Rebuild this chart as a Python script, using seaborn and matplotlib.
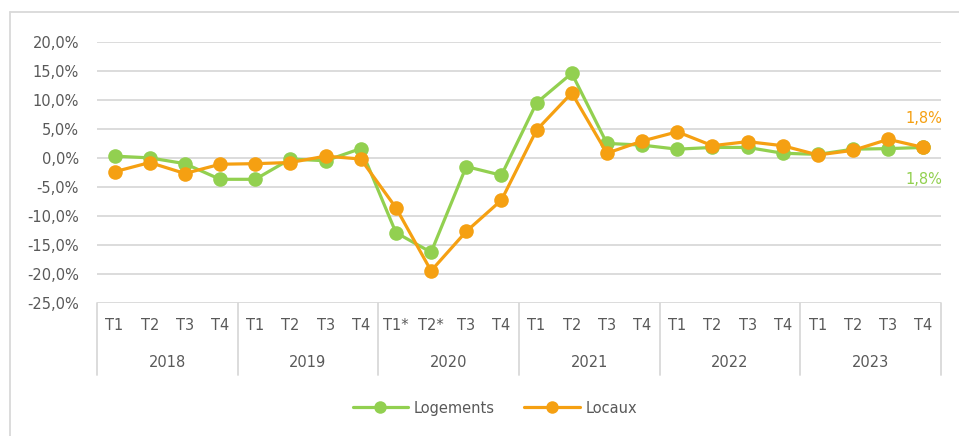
import matplotlib
matplotlib.use("Agg")
import matplotlib.pyplot as plt
from matplotlib.lines import Line2D
import seaborn as sns
import pandas as pd
import numpy as np

years = ["2018", "2019", "2020", "2021", "2022", "2023"]
quarters = ["T1", "T2", "T3", "T4", "T1", "T2", "T3", "T4",
            "T1*", "T2*", "T3", "T4", "T1", "T2", "T3", "T4",
            "T1", "T2", "T3", "T4", "T1", "T2", "T3", "T4"]
logements = [0.3, 0.0, -1.0, -3.7, -3.7, -0.2, -0.5, 1.6,
             -12.9, -16.3, -1.5, -3.0, 9.5, 14.6, 2.5, 2.2,
             1.5, 1.8, 1.8, 0.8, 0.6, 1.5, 1.6, 1.8]
locaux = [-2.4, -0.8, -2.7, -1.1, -1.0, -0.8, 0.3, -0.2,
          -8.6, -19.5, -12.7, -7.3, 4.8, 11.2, 0.8, 2.9,
          4.5, 2.1, 2.8, 2.1, 0.5, 1.3, 3.2, 1.8]
series_names = ["Logements", "Locaux"]
colors = {"Logements": "#92d050", "Locaux": "#f5a012"}

sns.set_style("white")
plt.rcParams['font.family'] = ['Liberation Sans Narrow', 'DejaVu Sans']

n = len(quarters)
idx = list(range(n))
df = pd.DataFrame({
    "i": idx * 2,
    "val": logements + locaux,
    "serie": ["Logements"] * n + ["Locaux"] * n,
})

W, H = 959, 436
fig = plt.figure(figsize=(W / 100, H / 100), dpi=100)
ax = fig.add_axes([97 / W, 1 - 302.7 / H, (941 - 97) / W, (302.7 - 42) / H])

sns.lineplot(data=df, x="i", y="val", hue="serie", palette=colors,
             hue_order=series_names, marker="o", markersize=10.5,
             markeredgewidth=0, linewidth=2.3, ax=ax, legend=False)

ax.set_xlim(-0.5, n - 0.5)
ax.set_ylim(-25, 20)
yt = np.arange(-25, 21, 5)
ax.set_yticks(yt)
ax.set_yticklabels([f"{v:.1f}%".replace(".", ",") for v in yt],
                   fontsize=10.5, color="#595959")
ax.tick_params(axis="y", length=0, pad=13)
ax.set_xticks([])
ax.set_xlabel("")
ax.set_ylabel("")
for s in ax.spines.values():
    s.set_visible(False)
for v in yt:
    ax.axhline(v, color="#d9d9d9", lw=1.3, zorder=0)

trans = ax.get_xaxis_transform()
for i, q in enumerate(quarters):
    ax.text(i, -0.089, q, transform=trans, ha="center", va="center",
            fontsize=10.5, color="#595959")
for k, y in enumerate(years):
    ax.text(k * 4 + 1.5, -0.228, y, transform=trans, ha="center", va="center",
            fontsize=10.5, color="#595959")
for k in range(len(years) + 1):
    ax.plot([k * 4 - 0.5, k * 4 - 0.5], [0, -0.277], transform=trans,
            color="#d9d9d9", lw=1.3, clip_on=False)

ax.annotate(f"{locaux[-1]:.1f}%".replace(".", ","), (n - 1, locaux[-1]),
            xytext=(0, 21), textcoords="offset points", ha="center", va="center",
            color=colors["Locaux"], fontsize=10.5)
ax.annotate(f"{logements[-1]:.1f}%".replace(".", ","), (n - 1, logements[-1]),
            xytext=(0, -23), textcoords="offset points", ha="center", va="center",
            color=colors["Logements"], fontsize=10.5)

handles = [Line2D([0], [0], color=colors[s], lw=2.3, marker="o", markersize=9,
                  markeredgewidth=0) for s in series_names]
fig.legend(handles, series_names, loc="center", bbox_to_anchor=(0.516, 1 - 408 / H),
           ncol=2, frameon=False, fontsize=10.5, handlelength=3.8,
           columnspacing=2.0, handletextpad=0.4, labelcolor="#595959")

fig.add_artist(Line2D([10 / W, 10 / W], [0, 1 - 12 / H], color="#d9d9d9", lw=1.3,
                      transform=fig.transFigure))
fig.add_artist(Line2D([10 / W, 1], [1 - 12 / H, 1 - 12 / H], color="#d9d9d9", lw=1.3,
                      transform=fig.transFigure))

fig.savefig("out.png", dpi=100)
